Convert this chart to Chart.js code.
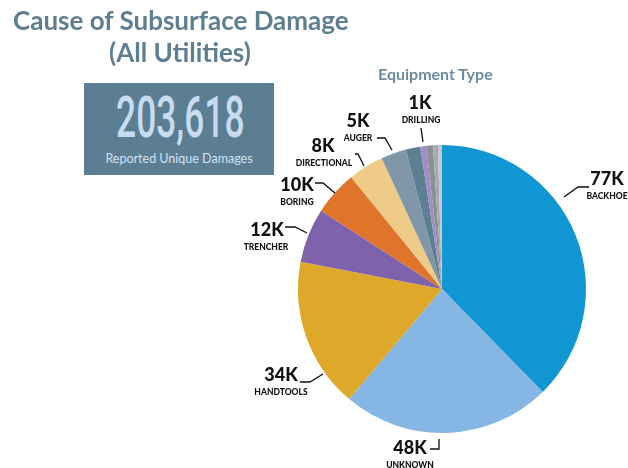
<!DOCTYPE html>
<html>
<head>
<meta charset="utf-8">
<script src="https://cdn.jsdelivr.net/npm/chart.js@4"></script>
<style>
  html, body { margin: 0; padding: 0; background: #fff; }
  #wrap { position: relative; width: 628px; height: 468px; overflow: hidden; }
  #chart { position: absolute; left: 0; top: 0; }
  .title { position: absolute; font-family: Lato, sans-serif; font-weight: bold; color: #5e7e91; white-space: nowrap; }
  #t1 { left: 13px; top: 4px; font-size: 26px; }
  #t2 { left: 109px; top: 36px; font-size: 26px; }
  #sub { left: 378px; top: 64px; font-size: 16px; color: #6b8ba0; }
  #box { position: absolute; left: 84px; top: 83px; width: 190px; height: 92px; background: #5b7e92; }
  #total { position: absolute; left: -4px; width: 190px; top: 3px; text-align: center; font-family: Roboto, sans-serif; font-weight: 500;
           font-size: 57px; color: #c8dbef; transform: scaleX(0.62); transform-origin: 50% 0; line-height: 64px; }
  #totalLbl { position: absolute; left: 0; width: 190px; top: 68px; text-align: center; font-family: Lato, sans-serif; font-size: 12.5px; color: #d3e2f1; }
</style>
</head>
<body>
<div id="wrap">
  <canvas id="chart" width="628" height="468"></canvas>
  <div class="title" id="t1">Cause of Subsurface Damage</div>
  <div class="title" id="t2">(All Utilities)</div>
  <div class="title" id="sub">Equipment Type</div>
  <div id="box">
    <div id="total">203,618</div>
    <div id="totalLbl">Reported Unique Damages</div>
  </div>
</div>
<script>
// --- DATA ---
const categories = ['Backhoe', 'Unknown', 'Handtools', 'Trencher', 'Boring', 'Directional', 'Auger', 'Other 1', 'Drilling', 'Other 2', 'Other 3', 'Other 4'];
const damages = [76700, 47800, 34400, 12400, 10200, 8100, 5800, 3300, 1400, 1500, 1100, 918];
const valueLabels = ['77K', '48K', '34K', '12K', '10K', '8K', '5K', '', '1K', '', '', ''];
const sliceColors = ['#0f96d3', '#86b6e3', '#dea92b', '#7e63ac', '#e0742a', '#eecb86', '#7f97a8', '#5c7f92', '#a28ec6', '#8c9094', '#a7aaad', '#c6c6c6'];

// --- LABEL LAYOUT (offsets from pie centre, px) ---
const labelLayout = {
    0: { v: [165, -110], c: [165, -93], line: [[122, -92], [136, -102], [147, -102]] },
    1: { v: [-32, 159], c: [-32, 176], line: [[-12, 160], [-3, 160], [-3, 150]] },
    2: { v: [-161, 86], c: [-161, 103], line: [[-142, 93], [-132, 93], [-119, 85]] },
    3: { v: [-175, -59], c: [-176, -42], line: [[-157, -62], [-147, -62], [-135, -56]] },
    4: { v: [-145, -104], c: [-145, -87], line: [[-127, -106], [-119, -106], [-107, -96]] },
    5: { v: [-119, -143], c: [-118, -126], line: [[-87, -135], [-84, -135], [-78, -123]] },
    6: { v: [-84, -168], c: [-84, -151], line: [[-65, -151], [-57, -151], [-50, -139]] },
    8: { v: [-22, -186], c: [-21, -169], line: [[-21, -161], [-19, -147]] }
};

const calloutPlugin = {
    id: 'callouts',
    afterDraw(chart) {
        const arc = chart.getDatasetMeta(0).data[0];
        const cx = arc.x, cy = arc.y;
        const ctx = chart.ctx;
        ctx.save();
        Object.keys(labelLayout).forEach(k => {
            const i = Number(k);
            const L = labelLayout[i];
            ctx.strokeStyle = '#111';
            ctx.lineWidth = 1.3;
            ctx.beginPath();
            L.line.forEach((p, j) => j === 0 ? ctx.moveTo(cx + p[0], cy + p[1]) : ctx.lineTo(cx + p[0], cy + p[1]));
            ctx.stroke();
            ctx.fillStyle = '#111';
            ctx.textAlign = 'center';
            ctx.textBaseline = 'middle';
            ctx.font = '900 18px Lato, sans-serif';
            ctx.fillText(valueLabels[i], cx + L.v[0], cy + L.v[1]);
            ctx.font = '900 8.5px Lato, sans-serif';
            ctx.fillText(categories[i].toUpperCase(), cx + L.c[0], cy + L.c[1]);
        });
        ctx.restore();
    }
};

new Chart(document.getElementById('chart'), {
    type: 'pie',
    data: {
        labels: categories,
        datasets: [{
            data: damages,
            backgroundColor: sliceColors,
            borderWidth: 0
        }]
    },
    options: {
        responsive: false,
        animation: false,
        layout: { padding: { left: 298, right: 42, top: 145, bottom: 35 } },
        plugins: {
            legend: { display: false },
            tooltip: { enabled: false }
        }
    },
    plugins: [calloutPlugin]
});
</script>
</body>
</html>
